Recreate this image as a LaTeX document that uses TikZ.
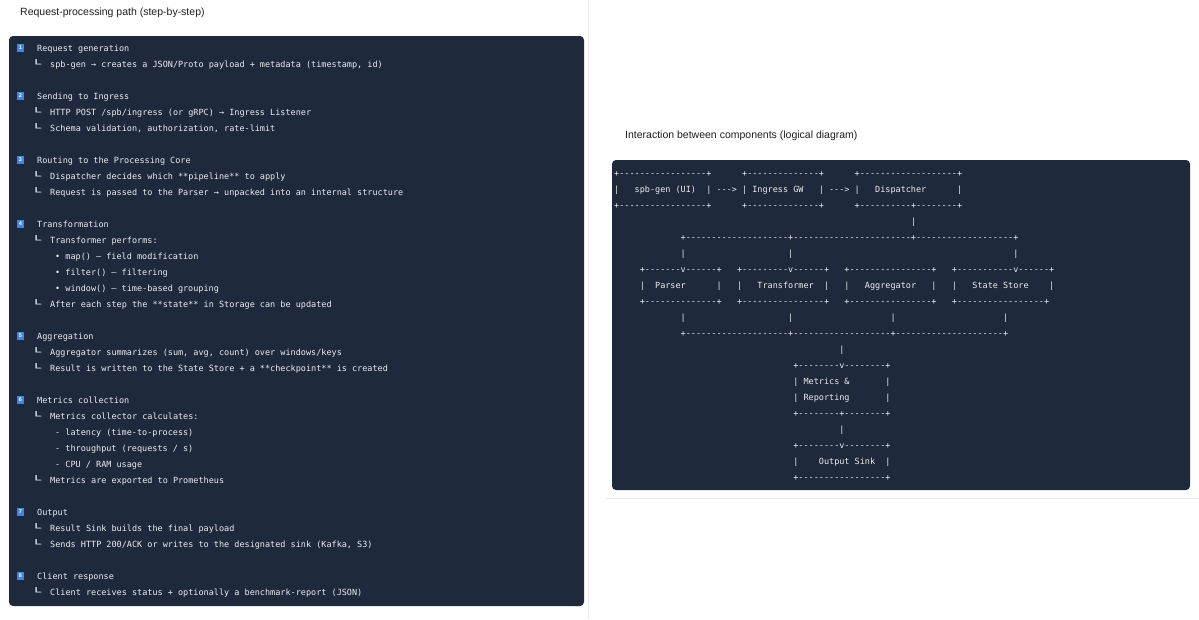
\documentclass[tikz,border=0pt]{standalone}
\usepackage{fontspec}
\setsansfont{Liberation Sans}
\setmonofont{DejaVu Sans Mono}
\usepackage{graphicx}

\definecolor{codebg}{RGB}{30,41,59}
\definecolor{codefg}{RGB}{234,238,242}
\definecolor{badgeblue}{RGB}{66,133,230}
\definecolor{titlegray}{RGB}{30,30,30}
\definecolor{cardline}{RGB}{230,232,236}

\newcommand\gap[1]{\hspace*{#1\fontcharwd\font`x}}
\newcommand\dsh[1]{\foreach\i in {1,...,#1}{-}}
\newcommand\sub{\makebox[19pt][l]{\scalebox{2}[1]{└}}}

\tikzset{
  panel/.style={fill=codebg, rounded corners=4pt},
  code/.style={font=\ttfamily\fontsize{8.5}{10}\selectfont, text=codefg, anchor=base west, inner sep=0pt},
  badge/.style={fill=badgeblue, text=white, font=\sffamily\bfseries\fontsize{5.5}{5.5}\selectfont, minimum size=7.5pt, inner sep=0pt},
  caption/.style={font=\sffamily\fontsize{10.5}{12}\selectfont, text=titlegray, anchor=base west, inner sep=0pt}
}

\begin{document}
\begin{tikzpicture}[x=1pt, y=-1pt]
        \useasboundingbox (0,0) rectangle (1199,619);
        \fill[white] (0,0) rectangle (1199,619);
        \draw[cardline] (588,0) -- (588,619);
        \draw[cardline] (605,498) -- (1199,498);
        % step-by-step path
        \node[caption] (leftcap) at (20,15) {Request-processing path (step-by-step)};
        \fill[panel] (9,36) rectangle (584,606);
        \node[badge] (b1) at (20.5,48) {1};
        \node[code] (s1) at (37,51) {Request generation};
        \node[code] (s1a) at (31,67) {\sub spb-gen → creates a JSON/Proto payload + metadata (timestamp, id)};
        \node[badge] (b2) at (20.5,96) {2};
        \node[code] (s2) at (37,99) {Sending to Ingress};
        \node[code] (s2a) at (31,115) {\sub HTTP POST /spb/ingress (or gRPC) → Ingress Listener};
        \node[code] (s2b) at (31,131) {\sub Schema validation, authorization, rate-limit};
        \node[badge] (b3) at (20.5,160) {3};
        \node[code] (s3) at (37,163) {Routing to the Processing Core};
        \node[code] (s3a) at (31,179) {\sub Dispatcher decides which **pipeline** to apply};
        \node[code] (s3b) at (31,195) {\sub Request is passed to the Parser → unpacked into an internal structure};
        \node[badge] (b4) at (20.5,224) {4};
        \node[code] (s4) at (37,227) {Transformation};
        \node[code] (s4a) at (31,243) {\sub Transformer performs:};
        \node[code] (s4b) at (55,259) {• map() – field modification};
        \node[code] (s4c) at (55,275) {• filter() – filtering};
        \node[code] (s4d) at (55,291) {• window() – time-based grouping};
        \node[code] (s4e) at (31,307) {\sub After each step the **state** in Storage can be updated};
        \node[badge] (b5) at (20.5,336) {5};
        \node[code] (s5) at (37,339) {Aggregation};
        \node[code] (s5a) at (31,355) {\sub Aggregator summarizes (sum, avg, count) over windows/keys};
        \node[code] (s5b) at (31,371) {\sub Result is written to the State Store + a **checkpoint** is created};
        \node[badge] (b6) at (20.5,400) {6};
        \node[code] (s6) at (37,403) {Metrics collection};
        \node[code] (s6a) at (31,419) {\sub Metrics collector calculates:};
        \node[code] (s6b) at (55,435) {- latency (time-to-process)};
        \node[code] (s6c) at (55,451) {- throughput (requests / s)};
        \node[code] (s6d) at (55,467) {- CPU / RAM usage};
        \node[code] (s6e) at (31,483) {\sub Metrics are exported to Prometheus};
        \node[badge] (b7) at (20.5,512) {7};
        \node[code] (s7) at (37,515) {Output};
        \node[code] (s7a) at (31,531) {\sub Result Sink builds the final payload};
        \node[code] (s7b) at (31,547) {\sub Sends HTTP 200/ACK or writes to the designated sink (Kafka, S3)};
        \node[badge] (b8) at (20.5,576) {8};
        \node[code] (s8) at (37,579) {Client response};
        \node[code] (s8a) at (31,595) {\sub Client receives status + optionally a benchmark-report (JSON)};
        % logical diagram
        \node[caption] (rightcap) at (625,138) {Interaction between components (logical diagram)};
        \fill[panel] (612,160) rectangle (1190,490);
        \node[code] (r1) at (614,176) {+\dsh{17}+\gap6+\dsh{14}+\gap6+\dsh{19}+};
        \node[code] (r2) at (614,192) {|\gap3spb-gen (UI)\gap2| ---> | Ingress GW\gap3| ---> |\gap3Dispatcher\gap6|};
        \node[code] (r3) at (614,208) {+\dsh{17}+\gap6+\dsh{14}+\gap6+\dsh{10}+\dsh8+};
        \node[code] (r4) at (614,224) {\gap{58}|};
        \node[code] (r5) at (614,240) {\gap{13}+\dsh{20}+\dsh{23}+\dsh{19}+};
        \node[code] (r6) at (614,256) {\gap{13}|\gap{20}|\gap{43}|};
        \node[code] (r7) at (614,272) {\gap5+\dsh7v\dsh6+\gap3+\dsh9v\dsh6+\gap3+\dsh{16}+\gap3+\dsh{11}v\dsh6+};
        \node[code] (r8) at (614,288) {\gap5|\gap2Parser\gap6|\gap3|\gap3Transformer\gap2|\gap3|\gap3Aggregator\gap3|\gap3|\gap3State Store\gap4|};
        \node[code] (r9) at (614,304) {\gap5+\dsh{14}+\gap3+\dsh{16}+\gap3+\dsh{16}+\gap3+\dsh{17}+};
        \node[code] (r10) at (614,320) {\gap{13}|\gap{20}|\gap{19}|\gap{21}|};
        \node[code] (r11) at (614,336) {\gap{13}+\dsh{20}+\dsh{19}+\dsh{21}+};
        \node[code] (r12) at (614,352) {\gap{44}|};
        \node[code] (r13) at (614,368) {\gap{35}+\dsh8v\dsh8+};
        \node[code] (r14) at (614,384) {\gap{35}| Metrics \&\gap7|};
        \node[code] (r15) at (614,400) {\gap{35}| Reporting\gap7|};
        \node[code] (r16) at (614,416) {\gap{35}+\dsh8+\dsh8+};
        \node[code] (r17) at (614,432) {\gap{44}|};
        \node[code] (r18) at (614,448) {\gap{35}+\dsh8v\dsh8+};
        \node[code] (r19) at (614,464) {\gap{35}|\gap4Output Sink\gap2|};
        \node[code] (r20) at (614,480) {\gap{35}+\dsh{17}+};
\end{tikzpicture}
\end{document}
